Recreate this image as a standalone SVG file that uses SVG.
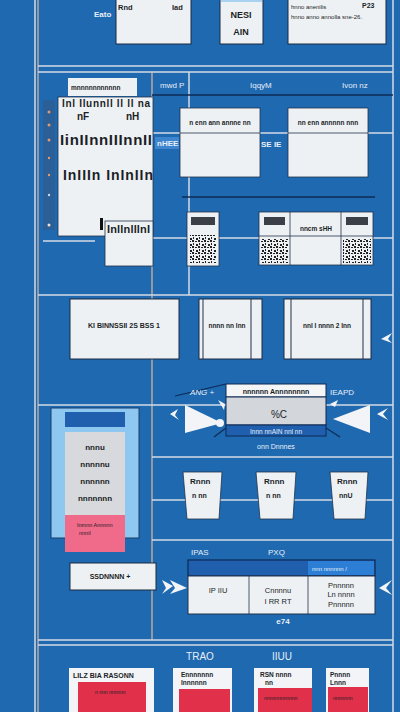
<svg xmlns="http://www.w3.org/2000/svg" width="400" height="712" viewBox="0 0 400 712">
  <style>
    .bg { fill: #1e69b0; }
    .frame { stroke: #d5dbe6; stroke-width: 1.5; fill: none; }
    .frameo { stroke: #e2b79a; stroke-width: 1.2; fill: none; }
    .dark { stroke: #0e2a55; stroke-width: 1.6; fill: none; }
    .card { fill: #eef1f4; stroke: #1a2a40; stroke-width: 1; }
    .card2 { fill: #eef1f4; stroke: #22324a; stroke-width: 0.8; }
    .t { font-family: "Liberation Sans", Arial, sans-serif; font-size: 7.5px; font-weight: bold; fill: #1b1f27; }
    .tm { font-family: "Liberation Sans", Arial, sans-serif; font-size: 8px; font-weight: bold; fill: #1b1f27; text-anchor: middle; }
    .tw { font-family: "Liberation Sans", Arial, sans-serif; font-size: 8px; fill: #e8eef8; }
    .twm { font-family: "Liberation Sans", Arial, sans-serif; font-size: 8px; fill: #e8eef8; text-anchor: middle; }
    .n { font-weight: normal; }
    .qr { fill: #222; }
    .red { fill: #e0304a; }
    .white { fill: #f2f4f7; }
  </style>
  <defs>
    <pattern id="qr" width="6" height="6" patternUnits="userSpaceOnUse">
      <rect width="6" height="6" fill="#eef1f4"/>
      <rect x="0" y="0" width="2" height="2" class="qr"/>
      <rect x="3" y="1" width="2" height="1" class="qr"/>
      <rect x="1" y="3" width="1" height="2" class="qr"/>
      <rect x="4" y="4" width="2" height="2" class="qr"/>
    </pattern>
  </defs>

  <!-- background -->
  <rect class="bg" width="400" height="712"/>

  <!-- section frames -->
  <g id="frames">
    <line class="frame" x1="35" y1="0" x2="35" y2="712"/>
    <line class="frameo" x1="38" y1="0" x2="38" y2="712"/>
    <line class="frame" x1="393" y1="0" x2="393" y2="712"/>
    <line class="frame" x1="38" y1="66" x2="393" y2="66"/>
    <line class="frame" x1="38" y1="72" x2="393" y2="72"/>
    <line class="frameo" x1="152" y1="72" x2="152" y2="640"/>
    <line class="frame" x1="189" y1="72" x2="189" y2="295"/>
    <line class="dark" x1="152" y1="95" x2="393" y2="95"/>
    <line class="frame" x1="152" y1="133" x2="393" y2="133"/>
    <line class="dark" x1="182" y1="197" x2="375" y2="197"/>
    <line class="frame" x1="152" y1="238" x2="393" y2="238"/>
    <line class="frame" x1="43" y1="241" x2="95" y2="241"/>
    <line class="frame" x1="38" y1="295" x2="393" y2="295"/>
    <line class="frame" x1="38" y1="405" x2="393" y2="405"/>
    <line class="frame" x1="152" y1="457" x2="393" y2="457"/>
    <line class="frame" x1="152" y1="500" x2="393" y2="500"/>
    <line class="frame" x1="152" y1="540" x2="393" y2="540"/>
    <line class="frame" x1="38" y1="640" x2="393" y2="640"/>
    <line class="frame" x1="38" y1="645" x2="393" y2="645"/>
  </g>

  <!-- top row -->
  <g id="top-a">
    <rect class="card" x="116" y="-2" width="75" height="46"/>
    <text class="t" x="118" y="10">Rnd</text>
    <text class="t" x="172" y="10">Iad</text>
  </g>
  <text class="tw" x="94" y="17" style="font-weight:bold">Eato</text>
  <g id="top-b">
    <rect class="card" x="220" y="-2" width="43" height="46"/>
    <rect x="221" y="-2" width="41" height="4" fill="#a9d2f0"/>
    <text class="tm" x="241" y="18" style="font-size:9px">NESI</text>
    <text class="tm" x="241" y="35" style="font-size:9px">AIN</text>
  </g>
  <g id="top-c">
    <rect class="card" x="288" y="-2" width="98" height="46"/>
    <text class="t" x="362" y="8" style="font-size:7px">P23</text>
    <text class="t n" x="291" y="9" style="font-size:6px">hnno anenilis</text>
    <text class="t n" x="291" y="19" style="font-size:6px">hnno anno annolla sne-26.</text>
  </g>

  <!-- header labels -->
  <g id="headers">
    <text class="tw" x="160" y="88">mwd P</text>
    <text class="tw" x="250" y="88">IqqyM</text>
    <text class="tw" x="342" y="88">Ivon nz</text>
  </g>

  <!-- left stack -->
  <g id="left-stack">
    <rect x="43" y="100" width="12" height="130" fill="#2a5f98"/>
    <circle cx="49" cy="112" r="1.5" fill="#e39a6a"/>
    <circle cx="49" cy="125" r="1.5" fill="#e39a6a"/>
    <circle cx="49" cy="140" r="1.5" fill="#e39a6a"/>
    <circle cx="49" cy="158" r="1.2" fill="#e39a6a"/>
    <circle cx="49" cy="175" r="1.2" fill="#e39a6a"/>
    <circle cx="49" cy="195" r="1.2" fill="#c6d6ea"/>
    <circle cx="49" cy="225" r="1.5" fill="#f2e0d0"/>
    <rect x="68" y="78" width="69" height="18" fill="#eef1f4"/>
    <text class="t" x="71" y="90" style="font-size:6.5px">mnnnnnnnnnnn</text>
    <rect class="card2" x="58" y="97" width="95" height="139"/>
    <text class="t" x="62" y="107" style="font-size:10px" textLength="88">Inl Ilunnll ll ll na</text>
    <text class="t" x="77" y="120" style="font-size:10px">nF</text>
    <text class="t" x="126" y="120" style="font-size:10px">nH</text>
    <text class="t" x="60" y="145" style="font-size:15px" textLength="92">IinIInnIIInnII</text>
    <text class="t" x="63" y="180" style="font-size:14px" textLength="90">InIIIn InInIIn</text>
  </g>
  <g id="left-sub">
    <rect class="card2" x="105" y="221" width="48" height="45"/>
    <rect x="100" y="218" width="3" height="12" fill="#111"/>
    <text class="t" x="107" y="233" style="font-size:11px" textLength="43">InllnlllnI</text>
  </g>

  <!-- middle boxes -->
  <g id="box-a">
    <rect class="card2" x="180" y="108" width="80" height="69"/>
    <line x1="180" y1="133" x2="260" y2="133" stroke="#22324a" stroke-width="0.8"/>
    <text class="tm" x="220" y="125" style="font-size:6.5px">n enn ann annne nn</text>
  </g>
  <g id="box-b">
    <rect class="card2" x="288" y="108" width="80" height="69"/>
    <line x1="288" y1="133" x2="368" y2="133" stroke="#22324a" stroke-width="0.8"/>
    <text class="tm" x="328" y="125" style="font-size:6.5px">nn enn annnnn nnn</text>
  </g>
  <rect x="155" y="137" width="24" height="12" fill="#3d86cf"/>
  <text class="tw" x="157" y="146" style="font-weight:bold">nHEE</text>
  <text class="tw" x="261" y="147" style="font-weight:bold">SE IE</text>

  <g id="box-c">
    <rect class="card2" x="187" y="212" width="32" height="54"/>
    <rect x="191" y="217" width="24" height="8" fill="#3a3f48"/>
    <rect x="190" y="235" width="26" height="28" fill="url(#qr)"/>
  </g>
  <g id="box-d">
    <rect class="card2" x="259" y="212" width="114" height="53"/>
    <line x1="290" y1="212" x2="290" y2="265" stroke="#22324a" stroke-width="0.8"/>
    <line x1="341" y1="212" x2="341" y2="265" stroke="#22324a" stroke-width="0.8"/>
    <line x1="259" y1="236" x2="373" y2="236" stroke="#22324a" stroke-width="0.8"/>
    <rect x="264" y="217" width="21" height="8" fill="#3a3f48"/>
    <rect x="346" y="217" width="22" height="8" fill="#3a3f48"/>
    <text class="tm" x="316" y="231" style="font-size:6.5px">nncm sHH</text>
    <rect x="261" y="239" width="27" height="24" fill="url(#qr)"/>
    <rect x="343" y="239" width="28" height="24" fill="url(#qr)"/>
  </g>

  <!-- third row -->
  <g id="box-e">
    <rect class="card" x="70" y="299" width="109" height="60"/>
    <text class="tm" x="124" y="328" style="font-size:7px">KI BINNSSII 2S BSS 1</text>
  </g>
  <g id="box-f">
    <rect class="card" x="199" y="299" width="63" height="60"/>
    <line x1="203" y1="299" x2="203" y2="359" stroke="#22324a"/>
    <line x1="251" y1="299" x2="251" y2="359" stroke="#22324a"/>
    <text class="tm" x="227" y="328" style="font-size:6.5px">nnnn nn Inn</text>
  </g>
  <g id="box-g">
    <rect class="card" x="284" y="299" width="87" height="60"/>
    <line x1="291" y1="299" x2="291" y2="359" stroke="#22324a"/>
    <line x1="363" y1="299" x2="363" y2="359" stroke="#22324a"/>
    <text class="tm" x="327" y="328" style="font-size:6.5px">nnI I nnnn 2 Inn</text>
  </g>

  <!-- connectors -->
  <g id="connectors">
    <path d="M381 339 L392 333 L388 339 L392 343 Z" fill="#f2f4f7"/>
    <!-- left wedge into hub -->
    <path d="M185 405 L222 423 L185 433 Z" fill="#f2f4f7"/>
    <circle cx="220" cy="423" r="4" fill="#f2f4f7"/>
    <path d="M170 414 L178 409 L175 415 L179 420 Z" fill="#f2f4f7"/>
    <path d="M218 400 L225 404 L224 410 Z" fill="#f2f4f7"/>
    <!-- right wedge into hub -->
    <path d="M370 405 L333 419 L370 433 Z" fill="#f2f4f7"/>
    <path d="M377 414 L388 408 L383 414 L388 420 Z" fill="#f2f4f7"/>
    <path d="M330 404 L338 400 L335 407 Z" fill="#f2f4f7"/>
    <line x1="175" y1="396" x2="226" y2="384" stroke="#0e2a55" stroke-width="1.2"/>
    <line x1="214" y1="437" x2="226" y2="428" stroke="#0e2a55" stroke-width="1.2"/>
    <line x1="326" y1="428" x2="340" y2="437" stroke="#0e2a55" stroke-width="1.2"/>
    <!-- chevrons into table -->
    <path d="M162 580 L173 586 L162 594 L166 588 Z" fill="#f2f4f7"/>
    <path d="M170 580 L187 588 L170 594 L175 588 Z" fill="#f2f4f7"/>
    <path d="M392 580 L379 588 L392 595 L386 588 Z" fill="#f2f4f7"/>
  </g>

  <!-- hub node -->
  <g id="hub">
    <rect x="226" y="384" width="100" height="13" fill="#f4f5f7" stroke="#0e2a55" stroke-width="1"/>
    <text class="tm" x="276" y="394" style="font-size:7px">nnnnnn Annnnnnnn</text>
    <rect x="226" y="397" width="100" height="28" fill="#d3d6db" stroke="#0e2a55" stroke-width="1"/>
    <text class="tm n" x="279" y="418" style="font-size:10px">%C</text>
    <rect x="226" y="425" width="100" height="11" fill="#1f5fae" stroke="#0e2a55" stroke-width="1"/>
    <text class="twm" x="276" y="434" style="font-size:6.5px">Innn nnAIN nnl nn</text>
  </g>
  <text class="tw" x="190" y="395" style="font-style:italic">ANG +</text>
  <text class="tw" x="330" y="395">IEAPD</text>
  <text class="twm" x="276" y="449" style="font-size:7px">onn Dnnnes</text>

  <!-- left panel -->
  <g id="panel">
    <rect x="51" y="408" width="88" height="130" fill="#8ec8f0" stroke="#1a3c6a" stroke-width="1"/>
    <rect x="65" y="412" width="60" height="15" fill="#1f5fae"/>
    <rect x="65" y="432" width="60" height="86" fill="#d8d9dc"/>
    <rect x="65" y="515" width="60" height="37" fill="#f06a8a"/>
    <text class="tm" x="95" y="450">nnnu</text>
    <text class="tm" x="95" y="467">nnnnnu</text>
    <text class="tm" x="95" y="484">nnnnnn</text>
    <text class="tm" x="95" y="501">nnnnnnn</text>
    <text class="t n" x="77" y="527" style="font-size:5.5px">Inmnn Annnnn</text>
    <text class="t n" x="79" y="535" style="font-size:5.5px">nnnil</text>
  </g>

  <!-- doc nodes -->
  <g id="doc-i">
    <path d="M183 472 L222 472 L219 519 L187 519 Z" fill="#eef1f4" stroke="#22324a" stroke-width="0.8"/>
    <text class="t" x="190" y="484" style="font-size:8px">Rnnn</text>
    <text class="t" x="192" y="498" style="font-size:7px">n nn</text>
  </g>
  <g id="doc-j">
    <path d="M256 472 L296 472 L293 519 L260 519 Z" fill="#eef1f4" stroke="#22324a" stroke-width="0.8"/>
    <text class="t" x="264" y="484" style="font-size:8px">Rnnn</text>
    <text class="t" x="266" y="498" style="font-size:7px">n nn</text>
  </g>
  <g id="doc-k">
    <path d="M330 472 L368 472 L365 519 L334 519 Z" fill="#eef1f4" stroke="#22324a" stroke-width="0.8"/>
    <text class="t" x="337" y="484" style="font-size:8px">Rnnn</text>
    <text class="t" x="339" y="498" style="font-size:7px">nnU</text>
  </g>

  <!-- table node -->
  <text class="tw" x="191" y="555">IPAS</text>
  <text class="tw" x="268" y="555">PXQ</text>
  <g id="table">
    <rect x="188" y="560" width="187" height="16" fill="#1f5fae" stroke="#0e2a55" stroke-width="1.2"/>
    <rect x="308" y="561" width="66" height="14" fill="#2d7fd6"/>
    <text class="tw" x="312" y="571" style="font-size:6px">nnn nnnnnn /</text>
    <rect x="188" y="576" width="187" height="38" fill="#eef1f4" stroke="#22324a" stroke-width="1"/>
    <line x1="249" y1="576" x2="249" y2="614" stroke="#22324a" stroke-width="0.8"/>
    <line x1="308" y1="576" x2="308" y2="614" stroke="#22324a" stroke-width="0.8"/>
    <text class="tm n" x="218" y="593" style="font-size:7.5px">IP IIU</text>
    <text class="tm n" x="278" y="593" style="font-size:7.5px">Cnnnnu</text>
    <text class="tm n" x="278" y="604" style="font-size:7.5px">I RR RT</text>
    <text class="tm n" x="341" y="588" style="font-size:7.5px">Pnnnnn</text>
    <text class="tm n" x="341" y="597" style="font-size:7.5px">Ln nnnn</text>
    <text class="tm n" x="341" y="607" style="font-size:7.5px">Pnnnnn</text>
  </g>
  <text class="twm" x="283" y="624" style="font-weight:bold">e74</text>
  <g id="note">
    <rect class="card" x="70" y="563" width="86" height="27"/>
    <text class="tm" x="110" y="579" style="font-size:7px">SSDNNNN +</text>
  </g>

  <!-- bottom cards -->
  <text class="twm" x="200" y="660" style="font-size:10px">TRAO</text>
  <text class="twm" x="282" y="660" style="font-size:10px">IIUU</text>
  <g id="card-m">
    <rect class="white" x="69" y="668" width="85" height="46"/>
    <text class="t" x="73" y="678" style="font-size:7px">LILZ BIA RASONN</text>
    <rect class="red" x="78" y="682" width="68" height="32"/>
    <text class="t n" x="95" y="694" style="font-size:5px">n nnn nnnnnn</text>
  </g>
  <g id="card-n">
    <rect class="white" x="173" y="668" width="59" height="46"/>
    <text class="t" x="181" y="677" style="font-size:6.5px">Ennnnnnn</text>
    <text class="t" x="181" y="685" style="font-size:6.5px">Innnnnn</text>
    <rect class="red" x="179" y="689" width="51" height="25"/>
  </g>
  <g id="card-o">
    <rect class="white" x="254" y="668" width="58" height="46"/>
    <text class="t" x="260" y="677" style="font-size:6.5px">RSN nnnn</text>
    <text class="t" x="265" y="685" style="font-size:6.5px">nn</text>
    <rect class="red" x="258" y="688" width="54" height="26"/>
    <text class="t n" x="264" y="700" style="font-size:5px">nnnnnnnnnnnn</text>
  </g>
  <g id="card-p">
    <rect class="white" x="326" y="668" width="43" height="46"/>
    <text class="t" x="330" y="677" style="font-size:6.5px">Pnnnn</text>
    <text class="t" x="330" y="685" style="font-size:6.5px">Lnnn</text>
    <rect class="red" x="328" y="687" width="40" height="27"/>
    <text class="t n" x="333" y="700" style="font-size:5px">nnnnnnn</text>
  </g>
</svg>
